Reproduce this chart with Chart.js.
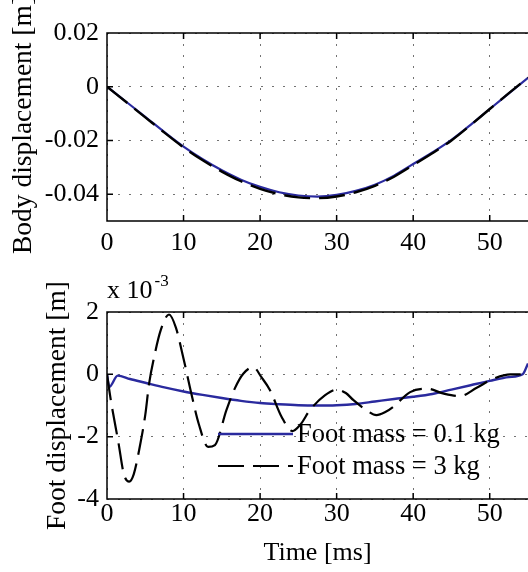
<!DOCTYPE html>
<html>
<head>
<meta charset="utf-8">
<script src="https://cdn.jsdelivr.net/npm/chart.js@4.4.0/dist/chart.umd.min.js"></script>
<style>
  body { margin: 0; background: #fff; overflow: hidden; }
  #wrap { position: relative; width: 528px; height: 572px; }
  canvas { position: absolute; left: 0; }
  #bodyChart { top: 0; }
  #footChart { top: 270px; }
</style>
</head>
<body>
<div id="wrap">
  <canvas id="bodyChart" width="528" height="270"></canvas>
  <canvas id="footChart" width="528" height="302"></canvas>
</div>
<script>
// Time axis ticks [ms]
const timeTicks = [0, 10, 20, 30, 40, 50];

// Body displacement [m]
const bodyTicks = [-0.04, -0.02, 0, 0.02];
const bodyTime = [0, 2.5, 5, 7.5, 10, 12.5, 15, 17.5, 20, 22.5, 25, 27.5, 30, 32.5, 35, 37.5, 40, 42.5, 45, 47.5, 50, 52.5, 55];
const bodyLight = [0, -0.0056, -0.0112, -0.0169, -0.0223, -0.0270, -0.0311, -0.0346, -0.0373, -0.0393, -0.0405, -0.0409, -0.0403, -0.0388, -0.0365, -0.0331, -0.0288, -0.0245, -0.0198, -0.0142, -0.0083, -0.0025, 0.0033];
const bodyHeavy = [0, -0.0057, -0.0114, -0.0171, -0.0226, -0.0274, -0.0316, -0.0352, -0.0380, -0.0400, -0.0412, -0.0415, -0.0409, -0.0393, -0.0369, -0.0335, -0.0292, -0.0248, -0.0200, -0.0143, -0.0083, -0.0024, 0.0034];

// Foot displacement [x 10^-3 m]
const footTicks = [-4, -2, 0, 2];
const footLightTime = [0, 0.3, 1.4, 3, 5, 7.5, 10, 12.5, 15, 17.5, 20, 22.5, 25, 27.5, 30, 32.5, 35, 37.5, 40, 42.5, 45, 47.5, 50, 52.5, 54.3, 55];
const footLight = [0, -0.40, -0.04, -0.15, -0.27, -0.42, -0.55, -0.66, -0.76, -0.85, -0.92, -0.96, -0.99, -1.0, -0.99, -0.95, -0.87, -0.79, -0.72, -0.63, -0.49, -0.35, -0.21, -0.09, 0.0, 0.35];
const footHeavyTime = [0, 0.5, 1.5, 2.2, 2.9, 3.5, 4.3, 5.0, 5.5, 6.2, 7.0, 8.1, 9.0, 10.0, 11.0, 12.0, 13.2, 14.1, 15.6, 16.7, 17.8, 19.1, 20.2, 21.3, 22.8, 24.2, 25.3, 26.5, 28.5, 30.0, 31.2, 32.2, 33.9, 35.2, 36.3, 37.4, 39.6, 41.8, 44.0, 46.1, 48.3, 50.5, 52.7, 54.4, 55];
const footHeavy = [0, -0.83, -2.2, -3.2, -3.44, -3.2, -2.3, -1.3, -0.3, 0.6, 1.4, 1.92, 1.5, 0.5, -0.6, -1.6, -2.33, -2.27, -1.15, -0.45, 0.02, 0.23, -0.1, -0.51, -1.36, -1.82, -1.6, -1.15, -0.67, -0.49, -0.6, -0.83, -1.15, -1.31, -1.22, -1.04, -0.57, -0.46, -0.62, -0.70, -0.43, -0.14, 0.0, 0.0, 0.05];

const serif = "'Liberation Serif', 'Times New Roman', serif";
const blue = "#2a2a9e";
const tickFont = { family: serif, size: 26 };
const gridStyle = { color: "rgba(0,0,0,0.55)", lineWidth: 1, drawTicks: false };
const gridBorder = { display: false, dash: [2, 9] };

function points(xs, ys) {
    return xs.map((x, i) => ({ x: x, y: ys[i] }));
}

// frame, inward ticks, titles, legend
function frameDeco(opts) {
    return {
        id: "frameDeco",
        afterDraw(chart) {
            const ctx = chart.ctx;
            const a = chart.chartArea;
            const xs = chart.scales.x;
            const ys = chart.scales.y;
            ctx.save();
            ctx.strokeStyle = "#000";
            ctx.lineWidth = 1.5;
            ctx.setLineDash([]);
            ctx.beginPath();
            ctx.moveTo(a.right + 2, a.top);
            ctx.lineTo(a.left, a.top);
            ctx.lineTo(a.left, a.bottom);
            ctx.lineTo(a.right + 2, a.bottom);
            xs.ticks.forEach(t => {
                const px = xs.getPixelForValue(t.value);
                ctx.moveTo(px, a.bottom); ctx.lineTo(px, a.bottom - 6);
                ctx.moveTo(px, a.top); ctx.lineTo(px, a.top + 6);
            });
            ys.ticks.forEach(t => {
                const py = ys.getPixelForValue(t.value);
                ctx.moveTo(a.left, py); ctx.lineTo(a.left + 6, py);
            });
            ctx.stroke();

            ctx.fillStyle = "#000";
            ctx.font = "27.5px " + serif;
            ctx.textAlign = "center";
            ctx.textBaseline = "middle";
            ctx.save();
            ctx.translate(opts.yTitleX, (a.top + a.bottom) / 2 + opts.yTitleShift);
            ctx.rotate(-Math.PI / 2);
            ctx.fillText(opts.yTitle, 0, 0);
            ctx.restore();

            ctx.font = "26px " + serif;
            if (opts.xTitle) {
                ctx.fillText(opts.xTitle, (a.left + a.right) / 2, opts.xTitleY);
            }

            if (opts.exponent) {
                ctx.textAlign = "left";
                ctx.textBaseline = "alphabetic";
                ctx.fillText("x 10", a.left, 28);
                const w = ctx.measureText("x 10").width;
                ctx.font = "17px " + serif;
                ctx.fillText("-3", a.left + w + 2, 16);
            }

            if (opts.legend) {
                ctx.font = "26.5px " + serif;
                ctx.textAlign = "left";
                ctx.textBaseline = "middle";
                chart.data.datasets.forEach((ds, i) => {
                    const y = a.top + 122 + i * 32;
                    ctx.strokeStyle = ds.borderColor;
                    ctx.lineWidth = ds.borderWidth;
                    ctx.setLineDash(ds.borderDash || []);
                    ctx.beginPath();
                    ctx.moveTo(a.left + 111, y);
                    ctx.lineTo(a.left + 186, y);
                    ctx.stroke();
                    ctx.fillText(ds.label, a.left + 190, y + 1);
                });
            }
            ctx.restore();
        }
    };
}

function xScale(height, padding) {
    return {
        type: "linear",
        min: 0,
        max: 55,
        afterBuildTicks: s => { s.ticks = timeTicks.map(v => ({ value: v })); },
        afterFit: s => { s.height = height; },
        grid: gridStyle,
        border: gridBorder,
        ticks: { padding: padding, font: tickFont, color: "#000", maxRotation: 0, callback: v => String(v) }
    };
}

function yScale(min, max, tickValues) {
    return {
        min: min,
        max: max,
        afterBuildTicks: s => { s.ticks = tickValues.map(v => ({ value: v })); },
        afterFit: s => { s.width = 107; },
        grid: gridStyle,
        border: gridBorder,
        ticks: { padding: 8, font: tickFont, color: "#000", callback: v => String(v) }
    };
}

// Body displacement chart
new Chart(document.getElementById("bodyChart"), {
    type: "line",
    data: {
        datasets: [{
            label: "Foot mass = 0.1 kg",
            data: points(bodyTime, bodyLight),
            borderColor: blue,
            borderWidth: 2.2,
            pointRadius: 0,
            cubicInterpolationMode: "monotone",
            order: 1
        }, {
            label: "Foot mass = 3 kg",
            data: points(bodyTime, bodyHeavy),
            borderColor: "#000",
            borderWidth: 2.4,
            borderDash: [26, 9],
            pointRadius: 0,
            cubicInterpolationMode: "monotone",
            order: 0
        }]
    },
    options: {
        responsive: false,
        animation: false,
        devicePixelRatio: 1,
        layout: { padding: { top: 33, left: 0, right: 0, bottom: 0 } },
        plugins: { legend: { display: false }, tooltip: { enabled: false } },
        scales: {
            x: xScale(49, 7),
            y: yScale(-0.05, 0.02, bodyTicks)
        }
    },
    plugins: [frameDeco({ yTitle: "Body displacement [m]", yTitleX: 24, yTitleShift: -2 })]
});

// Foot displacement chart
new Chart(document.getElementById("footChart"), {
    type: "line",
    data: {
        datasets: [{
            label: "Foot mass = 0.1 kg",
            data: points(footLightTime, footLight),
            borderColor: blue,
            borderWidth: 2.4,
            pointRadius: 0,
            cubicInterpolationMode: "monotone",
            order: 1
        }, {
            label: "Foot mass = 3 kg",
            data: points(footHeavyTime, footHeavy),
            borderColor: "#000",
            borderWidth: 2.2,
            borderDash: [26, 9],
            pointRadius: 0,
            cubicInterpolationMode: "monotone",
            order: 0
        }]
    },
    options: {
        responsive: false,
        animation: false,
        devicePixelRatio: 1,
        layout: { padding: { top: 42, left: 0, right: 0, bottom: 0 } },
        plugins: { legend: { display: false }, tooltip: { enabled: false } },
        scales: {
            x: xScale(73, 0),
            y: yScale(-4, 2, footTicks)
        }
    },
    plugins: [frameDeco({ yTitle: "Foot displacement [m]", yTitleX: 57.5, yTitleShift: 0, xTitle: "Time [ms]", xTitleY: 283, exponent: true, legend: true })]
});
</script>
</body>
</html>
